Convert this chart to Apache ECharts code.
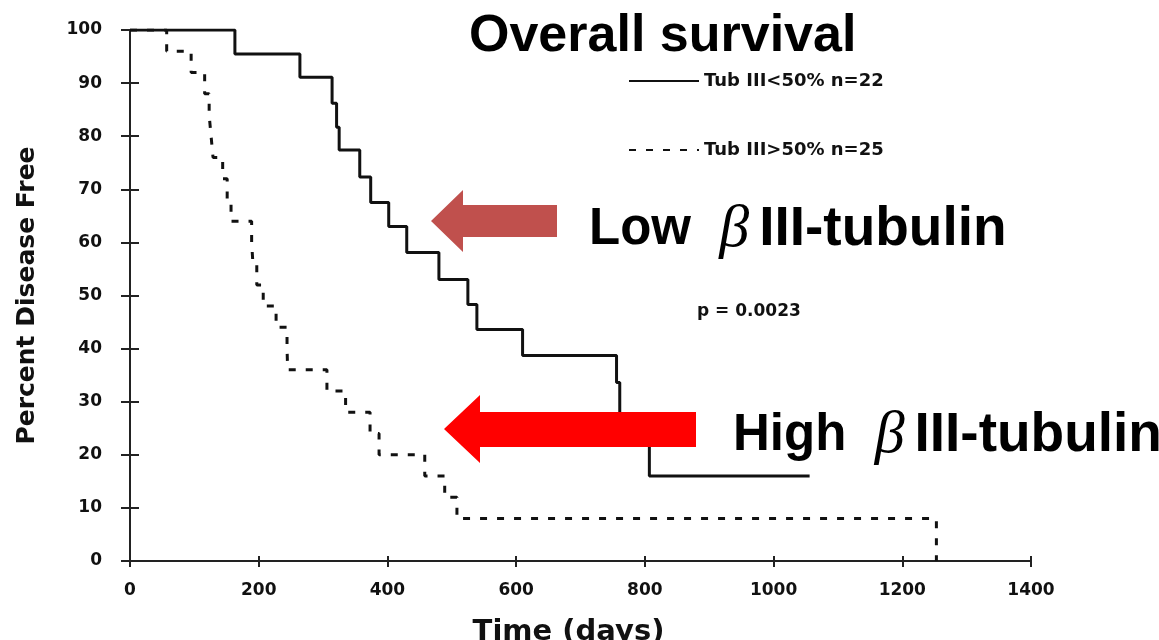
<!DOCTYPE html>
<html>
<head>
<meta charset="utf-8">
<script src="https://cdn.jsdelivr.net/npm/echarts@6/dist/echarts.min.js"></script>
<style>
  html, body { margin: 0; padding: 0; background: #fff; }
  #chart { width: 1159px; height: 640px; }
</style>
</head>
<body>
<div id="chart"></div>
<script>
// Kaplan-Meier steps (day, percent after the drop)
const lowDays = [0, 163, 264, 314, 321, 325, 357, 374, 402, 430, 480, 525, 539, 610, 756, 761, 807, 1056];
const lowPct = [100, 95.5, 91.1, 86.2, 81.7, 77.4, 72.3, 67.5, 63.0, 58.1, 53.0, 48.3, 43.6, 38.7, 33.6, 24.0, 16.0, 16.0];

const highDays = [0, 57, 95, 116, 123, 126, 129, 144, 151, 157, 189, 191, 197, 207, 227, 244, 245, 306, 335, 373, 387, 458, 489, 508, 1253];
const highPct = [100, 96, 92, 88, 84, 80, 76, 72, 68, 64, 60, 56, 52, 48, 44, 40, 36, 32, 28, 24, 20, 16, 12, 8, 0];

const lowName = 'Tub III<50% n=22';
const highName = 'Tub III>50% n=25';

const xTicks = [0, 200, 400, 600, 800, 1000, 1200, 1400];
const yTicks = [0, 10, 20, 30, 40, 50, 60, 70, 80, 90, 100];

const ink = '#111';
const smallFont = 'DejaVu Sans';
const bigFont = 'Liberation Sans, Arial, sans-serif';

function pairs(xs, ys) {
  return xs.map((x, i) => [x, ys[i]]);
}

const chart = echarts.init(document.getElementById('chart'));

const gridBox = {left: 130, right: 128, top: 30, bottom: 79, outerBoundsMode: 'none', containLabel: false};
const tickLine = {color: '#222', width: 2};
const xRange = {min: xTicks[0], max: xTicks[xTicks.length - 1], interval: xTicks[1] - xTicks[0]};
const yRange = {min: yTicks[0], max: yTicks[yTicks.length - 1], interval: yTicks[1] - yTicks[0]};

const bigText = (word) => ({
  text: '{a|' + word + '  }{b|β}{c|III-tubulin}',
  verticalAlign: 'middle',
  rich: {
    a: {font: 'bold 51px ' + bigFont, fill: '#000'},
    b: {font: 'italic 60px Liberation Serif', fill: '#000', padding: [0, 10, 0, 0]},
    c: {font: 'bold 55px ' + bigFont, fill: '#000'},
  },
});

chart.setOption({
  animation: false,
  backgroundColor: '#fff',
  // second grid only carries the inner half of the crossing ticks
  grid: [Object.assign({}, gridBox), Object.assign({}, gridBox)],
  legend: {
    orient: 'vertical',
    left: 623,
    top: 66,
    itemWidth: 70,
    itemHeight: 14,
    itemGap: 49,
    data: [lowName, highName],
    itemStyle: {opacity: 0},
    textStyle: {fontFamily: smallFont, fontWeight: 'bold', fontSize: 18, color: ink, lineHeight: 20},
  },
  xAxis: [Object.assign({
    type: 'value',
    gridIndex: 0,
    axisLine: {show: true, lineStyle: tickLine},
    axisTick: {show: true, length: 6, lineStyle: tickLine},
    axisLabel: {
      margin: 21,
      fontFamily: smallFont,
      fontWeight: 'bold',
      fontSize: 17,
      color: ink,
      formatter: (v) => String(v),
    },
    splitLine: {show: false},
    name: 'Time (days)',
    nameLocation: 'middle',
    nameGap: 57,
    nameTextStyle: {fontFamily: smallFont, fontWeight: 'bold', fontSize: 29, color: ink, padding: [0, 24, 0, 0]},
  }, xRange), Object.assign({
    type: 'value',
    gridIndex: 1,
    axisLine: {show: false},
    axisTick: {show: true, inside: true, length: 5, lineStyle: tickLine},
    axisLabel: {show: false},
    splitLine: {show: false},
  }, xRange)],
  yAxis: [Object.assign({
    type: 'value',
    gridIndex: 0,
    axisLine: {show: true, lineStyle: tickLine},
    axisTick: {show: true, length: 9, lineStyle: tickLine},
    axisLabel: {margin: 28, fontFamily: smallFont, fontWeight: 'bold', fontSize: 17, color: ink},
    splitLine: {show: false},
    name: 'Percent Disease Free',
    nameLocation: 'middle',
    nameGap: 90,
    nameTextStyle: {fontFamily: smallFont, fontWeight: 'bold', fontSize: 25, color: ink},
  }, yRange), Object.assign({
    type: 'value',
    gridIndex: 1,
    axisLine: {show: false},
    axisTick: {show: true, inside: true, length: 9, lineStyle: tickLine},
    axisLabel: {show: false},
    splitLine: {show: false},
  }, yRange)],
  series: [{
    name: highName,
    type: 'line',
    step: 'end',
    symbol: 'none',
    silent: true,
    data: pairs(highDays, highPct),
    lineStyle: {color: ink, width: 3, type: [7, 10]},
    itemStyle: {color: ink},
  }, {
    name: lowName,
    type: 'line',
    step: 'end',
    symbol: 'none',
    silent: true,
    data: pairs(lowDays, lowPct),
    lineStyle: {color: ink, width: 3},
    itemStyle: {color: ink},
  }],
  graphic: [{
    type: 'text',
    left: 469,
    top: 11,
    style: {text: 'Overall survival', font: 'bold 52px ' + bigFont, fill: '#000'},
  }, {
    type: 'polygon',
    z: 100,
    shape: {points: [[431, 221], [463, 190], [463, 205], [557, 205], [557, 237], [463, 237], [463, 252]]},
    style: {fill: '#c0504d'},
  }, {
    type: 'polygon',
    z: 100,
    shape: {points: [[444, 429], [480, 395], [480, 412], [696, 412], [696, 447], [480, 447], [480, 463]]},
    style: {fill: '#ff0000'},
  }, {
    type: 'text',
    x: 589,
    y: 230,
    z: 100,
    style: bigText('Low'),
  }, {
    type: 'text',
    x: 733,
    y: 436,
    z: 100,
    style: bigText('High'),
  }, {
    type: 'text',
    x: 697,
    y: 312,
    style: {text: 'p = 0.0023', verticalAlign: 'middle', font: 'bold 17px ' + smallFont, fill: ink},
  }],
});
</script>
</body>
</html>
